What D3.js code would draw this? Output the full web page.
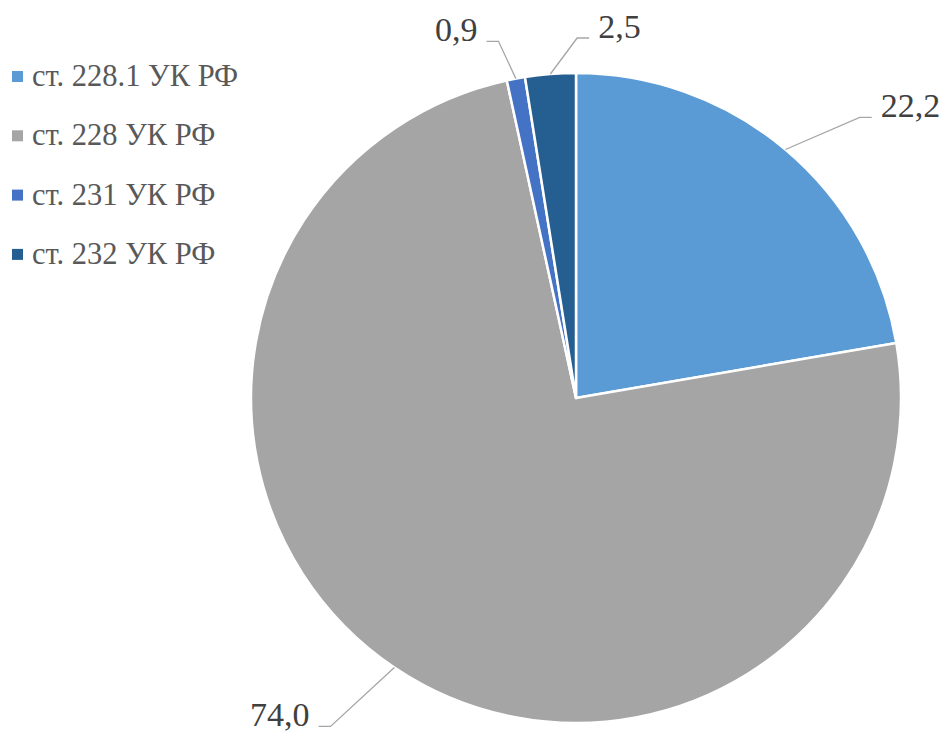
<!DOCTYPE html>
<html>
<head>
<meta charset="utf-8">
<script src="https://cdnjs.cloudflare.com/ajax/libs/d3/7.8.5/d3.min.js"></script>
<style>
  html, body { margin: 0; padding: 0; background: #fff; }
  svg { display: block; }
  text { font-family: "Liberation Serif", "DejaVu Serif", serif; }
</style>
</head>
<body>
<div id="chart"></div>
<script>
// данные диаграммы
const categories = ["ст. 228.1 УК РФ", "ст. 228 УК РФ", "ст. 231 УК РФ", "ст. 232 УК РФ"];
const values = [22.2, 74.0, 0.9, 2.5];
const valueLabels = ["22,2", "74,0", "0,9", "2,5"];

const colors = ["#5b9bd5", "#a5a5a5", "#4472c4", "#255e91"];

const width = 950, height = 733;
const cx = 576, cy = 398, radius = 325;

// положение выносок: радиус излома и сдвиг угла (градусы), направление полки
const leader = [
  { r: 399, da: 5.2, dir: 1 },
  { r: 410, da: 2.8, dir: -1 },
  { r: 365, da: -1.6, dir: -1 },
  { r: 360, da: 4.7, dir: 1 }
];

const svg = d3.select("#chart").append("svg")
  .attr("width", width)
  .attr("height", height);

const data = categories.map((c, i) => ({ name: c, value: values[i], label: valueLabels[i], i: i }));

const pie = d3.pie().value(d => d.value).sort(null);
const arcs = pie(data);

const arc = d3.arc().innerRadius(0).outerRadius(radius);

const g = svg.append("g").attr("transform", "translate(" + cx + "," + cy + ")");

g.selectAll("path.slice")
  .data(arcs)
  .enter().append("path")
  .attr("class", "slice")
  .attr("d", arc)
  .attr("fill", d => colors[d.data.i])
  .attr("stroke", "#fff")
  .attr("stroke-width", 2.5)
  .attr("stroke-linejoin", "round");

// точка на окружности по углу (от 12 часов по часовой)
function polar(r, a) {
  return [r * Math.sin(a), -r * Math.cos(a)];
}

const labels = g.selectAll("g.lbl")
  .data(arcs)
  .enter().append("g")
  .attr("class", "lbl");

labels.each(function (d) {
  const L = leader[d.data.i];
  const mid = (d.startAngle + d.endAngle) / 2;
  const p0 = polar(radius, mid);
  const p1 = polar(L.r, mid + L.da * Math.PI / 180);
  const p2 = [p1[0] + L.dir * 12, p1[1]];
  const sel = d3.select(this);
  sel.append("polyline")
    .attr("points", [p0, p1, p2].map(p => p.join(",")).join(" "))
    .attr("fill", "none")
    .attr("stroke", "#a6a6a6")
    .attr("stroke-width", 1.3);
  sel.append("text")
    .attr("x", p2[0] + L.dir * 9)
    .attr("y", p2[1])
    .attr("text-anchor", L.dir > 0 ? "start" : "end")
    .attr("font-size", 34)
    .attr("fill", "#404040")
    .text(d.data.label);
});

// легенда
const legend = svg.append("g").attr("transform", "translate(12,71)");
const item = legend.selectAll("g.item")
  .data(data)
  .enter().append("g")
  .attr("class", "item")
  .attr("transform", (d, i) => "translate(0," + (i * 59.3) + ")");

item.append("rect")
  .attr("width", 11)
  .attr("height", 11)
  .attr("fill", d => colors[d.i]);

item.append("text")
  .attr("x", 20)
  .attr("y", 15)
  .attr("font-size", 30.5)
  .attr("fill", "#595959")
  .text(d => d.name);
</script>
</body>
</html>
